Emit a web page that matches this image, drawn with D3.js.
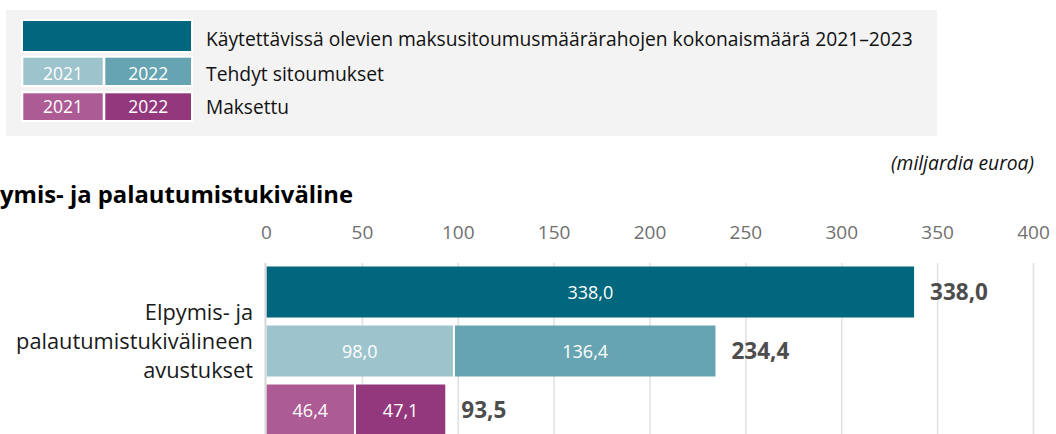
<!DOCTYPE html>
<html>
<head>
<meta charset="utf-8">
<script src="https://cdn.jsdelivr.net/npm/d3@7"></script>
<style>
  html, body { margin: 0; padding: 0; background: #ffffff; }
  svg { display: block; }
  text { font-family: "Open Sans", "DejaVu Sans", sans-serif; }
</style>
</head>
<body>
<svg id="chart" width="1056" height="434"></svg>
<script>
// ---------------- DATA ----------------
const title = "Elpymis- ja palautumistukiväline";
const titleVisibleTail = "ymis- ja palautumistukiväline";
const unitLabel = "(miljardia euroa)";
const categoryLabel = ["Elpymis- ja", "palautumistukivälineen", "avustukset"];
const rowKeys = ["available", "commitments", "paid"];
const legendLabels = [
  "Käytettävissä olevien maksusitoumusmäärärahojen kokonaismäärä 2021–2023",
  "Tehdyt sitoumukset",
  "Maksettu"
];
const years = ["2021", "2022"];
const availableValues = [338.0];
const commitmentValues = [98.0, 136.4];
const paidValues = [46.4, 47.1];
const tickValues = [0, 50, 100, 150, 200, 250, 300, 350, 400];

const colorAvailable = ["#00677e"];
const colorCommitments = ["#9dc3cd", "#67a4b2"];
const colorPaid = ["#ad5b94", "#93387d"];

// ---------------- SETUP ----------------
const svg = d3.select("#chart");
const fi = d3.formatLocale({decimal: ",", thousands: "\u00a0", grouping: [3], currency: ["", " €"]});
const fmt = fi.format(".1f");

const x = d3.scaleLinear().domain([0, 400]).range([266, 1033]);
const y = d3.scaleBand().domain(rowKeys).range([262.5, 439.5])
  .paddingInner(8 / 59).paddingOuter(4 / 59);

const rows = [
  {key: "available", values: availableValues, colors: colorAvailable},
  {key: "commitments", values: commitmentValues, colors: colorCommitments},
  {key: "paid", values: paidValues, colors: colorPaid}
];

// scale font-size so that the text occupies the target width
function fitFont(sel, target, maxSize) {
  const size = parseFloat(sel.attr("font-size"));
  const w = sel.node().getComputedTextLength();
  let s = size * target / w;
  if (maxSize) s = Math.min(s, maxSize);
  sel.attr("font-size", s.toFixed(2));
  return s;
}

// ---------------- LEGEND ----------------
const legend = svg.append("g");
legend.append("rect").attr("x", 6).attr("y", 10).attr("width", 931).attr("height", 126)
  .attr("fill", "#f3f3f3");

const legendRows = [
  {y: 21, h: 30, parts: [{x0: 23, x1: 191, c: colorAvailable[0], t: ""}]},
  {y: 57.7, h: 27.3, parts: [{x0: 23.3, x1: 102.7, c: colorCommitments[0], t: years[0]},
                             {x0: 105.3, x1: 191, c: colorCommitments[1], t: years[1]}]},
  {y: 93.3, h: 26.7, parts: [{x0: 23.3, x1: 102.7, c: colorPaid[0], t: years[0]},
                             {x0: 105.3, x1: 191, c: colorPaid[1], t: years[1]}]}
];
const legendBaselines = [45.7, 81, 114];
const legendWidths = [707, 178, 83];

legendRows.forEach((r, i) => {
  legend.append("rect").attr("x", 21).attr("y", r.y - 2).attr("width", 172).attr("height", r.h + 4)
    .attr("fill", "#ffffff");
  r.parts.forEach(p => {
    legend.append("rect").attr("x", p.x0).attr("y", r.y).attr("width", p.x1 - p.x0).attr("height", r.h)
      .attr("fill", p.c);
    if (p.t) {
      const yt = legend.append("text").attr("x", (p.x0 + p.x1) / 2).attr("y", legendBaselines[i] - 1.5)
        .attr("text-anchor", "middle").attr("font-size", 17).attr("fill", "#ffffff").text(p.t);
      fitFont(yt, 40);
    }
  });
  const t = legend.append("text").attr("x", 206).attr("y", legendBaselines[i])
    .attr("font-size", 17.5).attr("fill", "#111111").text(legendLabels[i]);
  fitFont(t, legendWidths[i]);
});

// ---------------- UNIT + TITLE ----------------
const tUnit = svg.append("text").attr("x", 1034).attr("y", 170).attr("text-anchor", "end")
  .attr("font-size", 16).attr("font-style", "italic").attr("fill", "#111111").text(unitLabel);
fitFont(tUnit, 143);

const tTail = svg.append("text").attr("font-size", 20).attr("font-weight", "bold").text(titleVisibleTail);
const titleSize = fitFont(tTail, 353);
tTail.remove();
svg.append("text").attr("x", 353).attr("y", 203).attr("text-anchor", "end")
  .attr("font-size", titleSize.toFixed(2)).attr("font-weight", "bold").attr("fill", "#000000").text(title);

// ---------------- AXIS + GRID ----------------
const grid = svg.append("g").attr("transform", "translate(0,263)")
  .call(d3.axisBottom(x).tickValues(tickValues.slice(1)).tickSize(171).tickFormat(""));
grid.select(".domain").remove();
grid.selectAll("line").attr("stroke", "#e2e2e2").attr("stroke-width", 1.6);

svg.append("line").attr("x1", x(0) - 0.5).attr("x2", x(0) - 0.5).attr("y1", 263).attr("y2", 434)
  .attr("stroke", "#d6d6d6").attr("stroke-width", 2);

const axis = svg.append("g").attr("transform", "translate(0,239)")
  .call(d3.axisTop(x).tickValues(tickValues).tickSize(0).tickPadding(0).tickFormat(d3.format("d")));
axis.select(".domain").remove();
axis.selectAll("text").attr("font-size", 19).attr("fill", "#707070")
  .attr("font-family", "'Open Sans', sans-serif");

// ---------------- BARS ----------------
const barsG = svg.append("g");
rows.forEach(r => {
  let acc = 0;
  const n = r.values.length;
  r.values.forEach((v, i) => {
    const x0 = x(acc) + (i > 0 ? 1 : 0.7);
    const x1 = x(acc + v) - (i < n - 1 ? 1 : 0);
    barsG.append("rect").attr("x", x0).attr("y", y(r.key)).attr("width", x1 - x0)
      .attr("height", y.bandwidth()).attr("fill", r.colors[i]);
    barsG.append("text").attr("x", (x0 + x1) / 2).attr("y", y(r.key) + y.bandwidth() / 2 + 6.5)
      .attr("text-anchor", "middle").attr("font-size", 18).attr("fill", "#ffffff").text(fmt(v));
    acc += v;
  });
  barsG.append("text").attr("x", x(acc) + 16).attr("y", y(r.key) + y.bandwidth() / 2 + 7.5)
    .attr("font-size", 22.5).attr("font-weight", "bold").attr("fill", "#4d4d4d").text(fmt(acc));
});

// ---------------- CATEGORY LABEL ----------------
const catBase = [319.5, 348.5, 377.5];
const catSizer = svg.append("text").attr("font-size", 20).text(categoryLabel[1]);
const catSize = fitFont(catSizer, 237);
catSizer.remove();
categoryLabel.forEach((line, i) => {
  svg.append("text").attr("x", 253).attr("y", catBase[i]).attr("text-anchor", "end")
    .attr("font-size", catSize.toFixed(2)).attr("fill", "#1a1a1a").text(line);
});
</script>
</body>
</html>
